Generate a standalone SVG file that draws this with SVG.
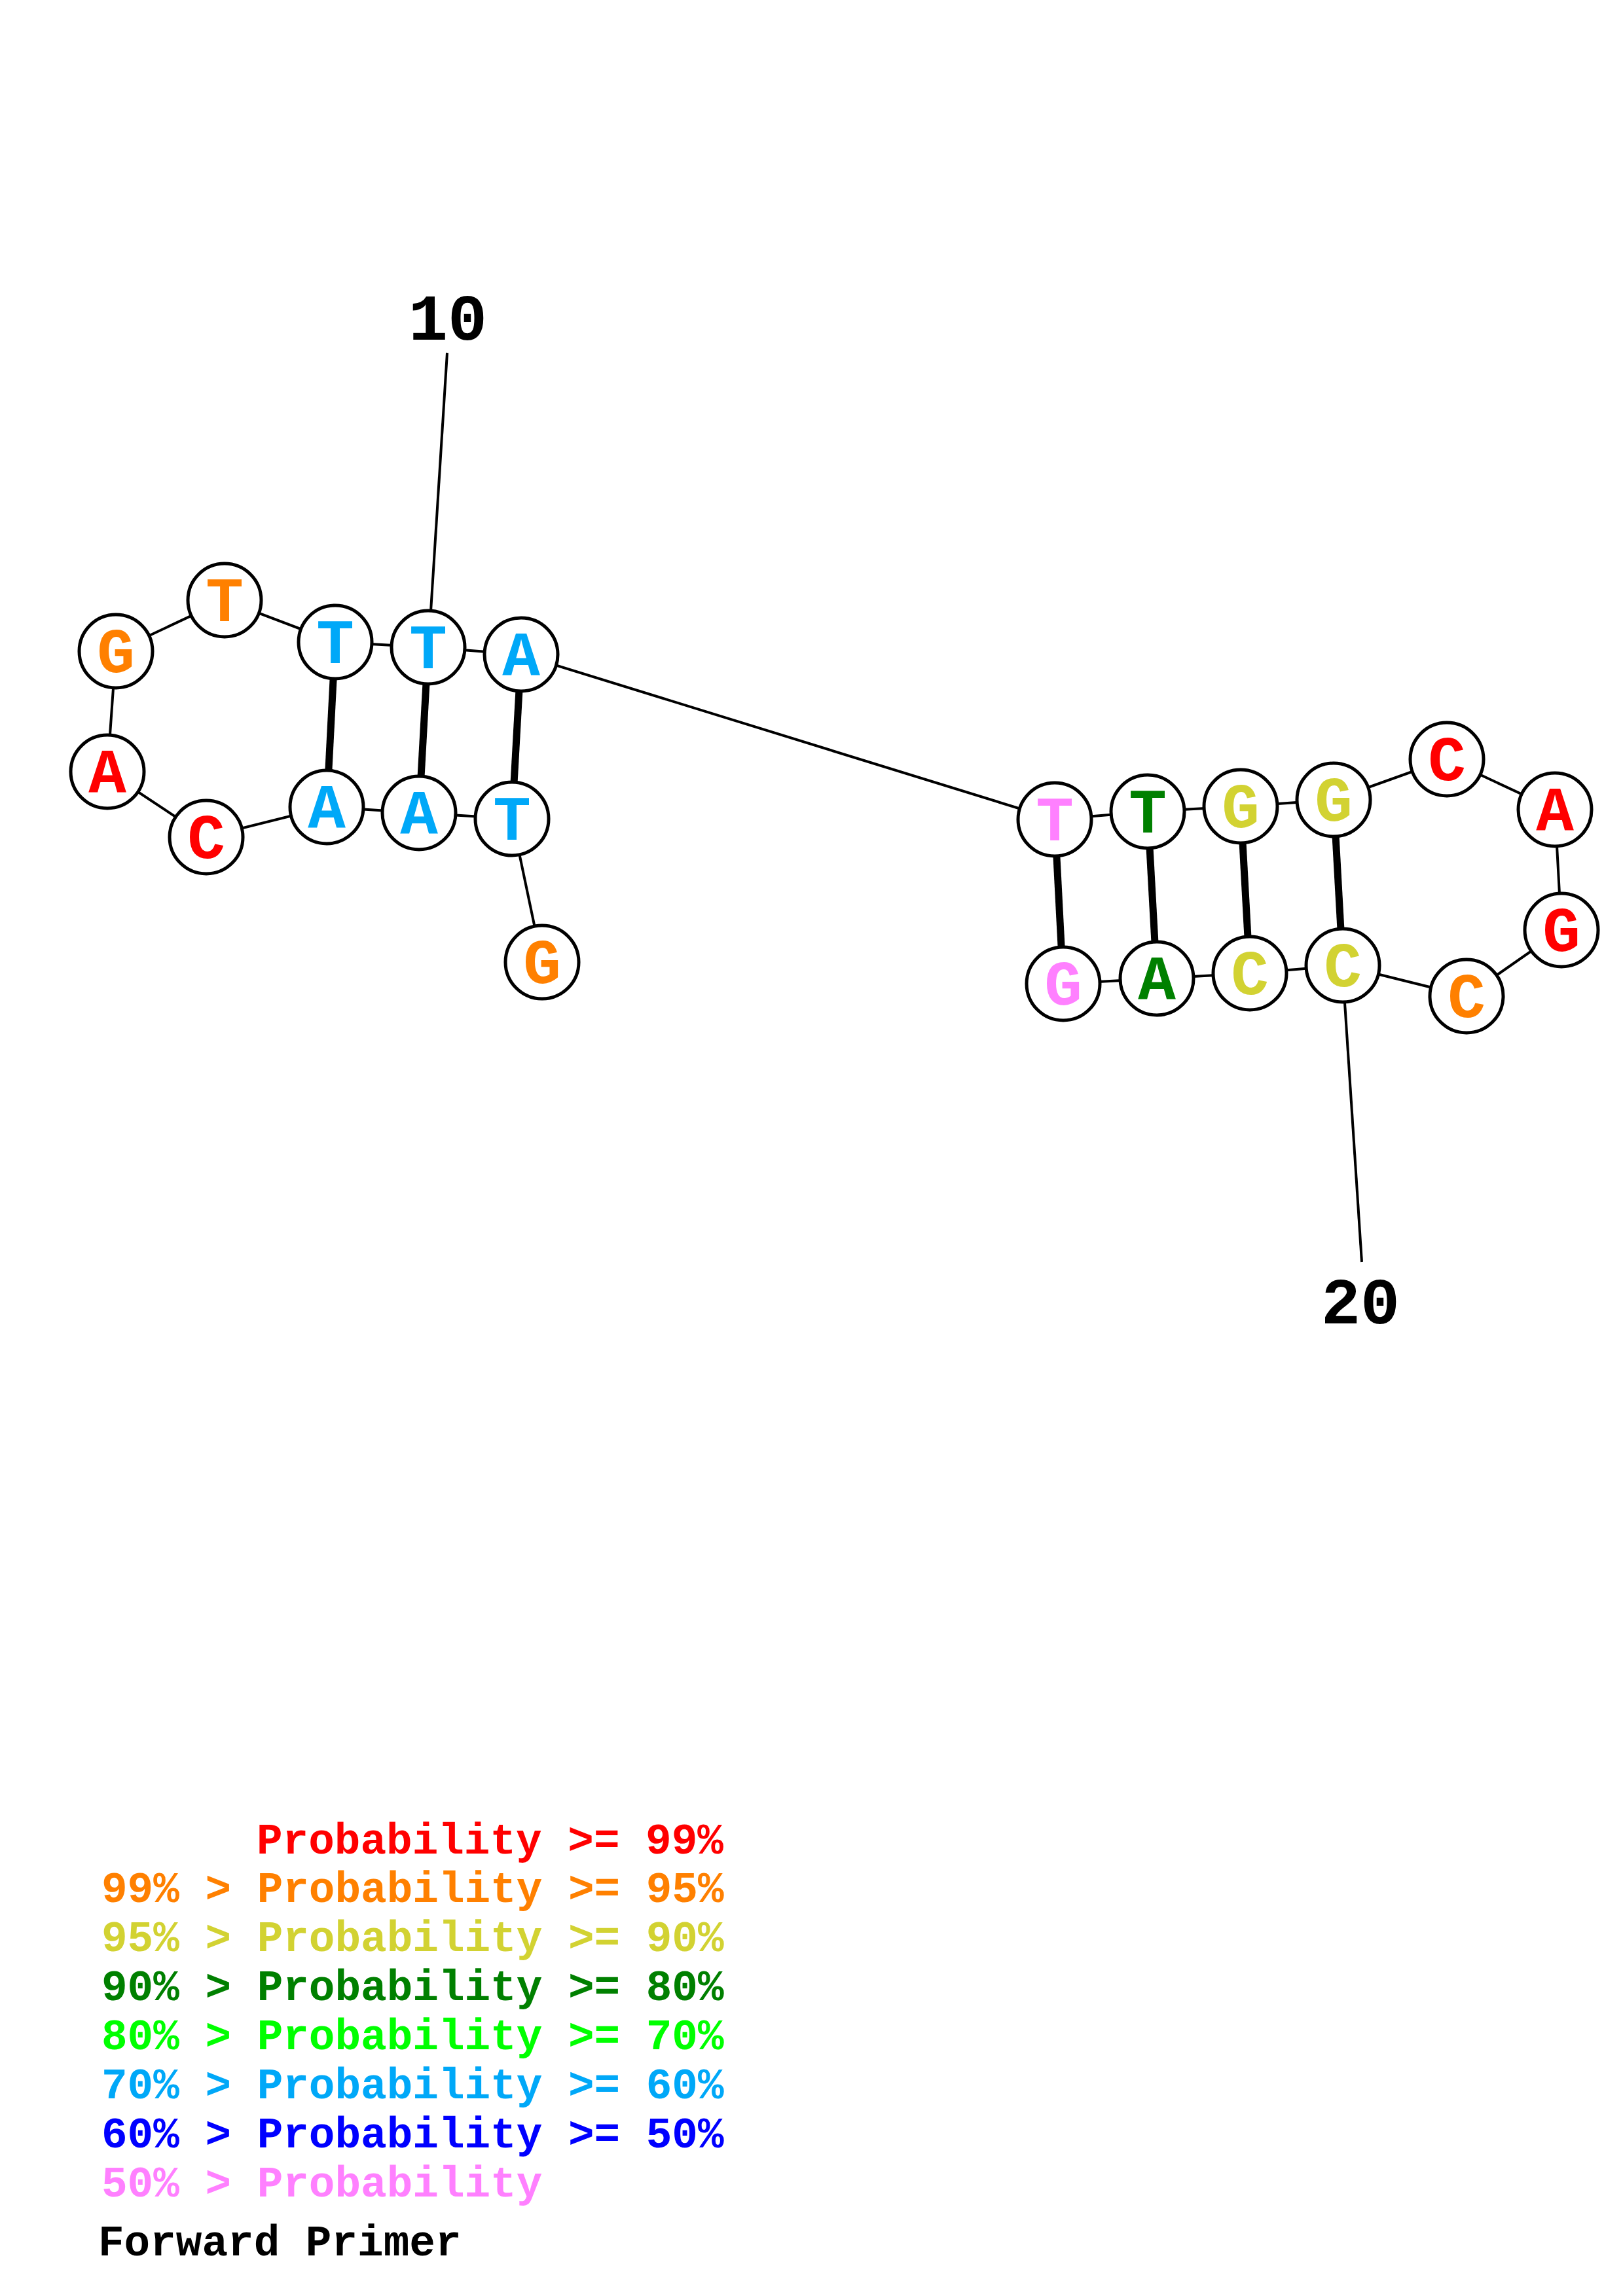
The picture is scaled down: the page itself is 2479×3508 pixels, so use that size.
<svg xmlns="http://www.w3.org/2000/svg" width="2479" height="3508" viewBox="0 0 2479 3508">
<style>
.bb{stroke:#000;stroke-width:4;fill:none}
.pr{stroke:#000;stroke-width:11;fill:none}
.nc{fill:#fff;stroke:#000;stroke-width:5}
.nt{font-family:"Liberation Mono","DejaVu Sans Mono",monospace;font-weight:bold;font-size:96px;text-anchor:middle}
.lb{font-family:"Liberation Mono","DejaVu Sans Mono",monospace;font-weight:bold;font-size:100px;text-anchor:middle;fill:#000}
.lg{font-family:"Liberation Mono","DejaVu Sans Mono",monospace;font-weight:bold;font-size:66px;white-space:pre}
.r{fill:#FF0000}.o{fill:#FF8000}.y{fill:#D2D232}.g{fill:#008000}.lgr{fill:#00FF00}.b{fill:#00A8F8}.db{fill:#0000FF}.p{fill:#FF80FF}.k{fill:#000}
</style>
<rect width="2479" height="3508" fill="#fff"/>
<g id="connectors">
<polyline class="bb" points="828,1470 782,1251 640,1242 499,1233 315,1279 164,1179 177,995 343,917 512,981 654,989 796,1000 1611,1252 1753,1240 1895,1232 2037,1222 2210,1160 2375,1237 2385,1421 2240,1522 2051,1475 1909,1487 1767,1495 1624,1503"/>
<line class="pr" x1="512" y1="981" x2="499" y2="1233"/>
<line class="pr" x1="654" y1="989" x2="640" y2="1242"/>
<line class="pr" x1="796" y1="1000" x2="782" y2="1251"/>
<line class="pr" x1="1611" y1="1252" x2="1624" y2="1503"/>
<line class="pr" x1="1753" y1="1240" x2="1767" y2="1495"/>
<line class="pr" x1="1895" y1="1232" x2="1909" y2="1487"/>
<line class="pr" x1="2037" y1="1222" x2="2051" y2="1475"/>
<line class="bb" x1="683" y1="539" x2="658" y2="934"/>
<line class="bb" x1="2054" y1="1532" x2="2080" y2="1928"/>
</g>
<g id="n1"><circle class="nc" cx="828" cy="1470" r="56"/><text class="nt o" x="828" y="1502">G</text></g>
<g id="n2"><circle class="nc" cx="782" cy="1251" r="56"/><text class="nt b" x="782" y="1283">T</text></g>
<g id="n3"><circle class="nc" cx="640" cy="1242" r="56"/><text class="nt b" x="640" y="1274">A</text></g>
<g id="n4"><circle class="nc" cx="499" cy="1233" r="56"/><text class="nt b" x="499" y="1265">A</text></g>
<g id="n5"><circle class="nc" cx="315" cy="1279" r="56"/><text class="nt r" x="315" y="1311">C</text></g>
<g id="n6"><circle class="nc" cx="164" cy="1179" r="56"/><text class="nt r" x="164" y="1211">A</text></g>
<g id="n7"><circle class="nc" cx="177" cy="995" r="56"/><text class="nt o" x="177" y="1027">G</text></g>
<g id="n8"><circle class="nc" cx="343" cy="917" r="56"/><text class="nt o" x="343" y="949">T</text></g>
<g id="n9"><circle class="nc" cx="512" cy="981" r="56"/><text class="nt b" x="512" y="1013">T</text></g>
<g id="n10"><circle class="nc" cx="654" cy="989" r="56"/><text class="nt b" x="654" y="1021">T</text></g>
<g id="n11"><circle class="nc" cx="796" cy="1000" r="56"/><text class="nt b" x="796" y="1032">A</text></g>
<g id="n12"><circle class="nc" cx="1611" cy="1252" r="56"/><text class="nt p" x="1611" y="1284">T</text></g>
<g id="n13"><circle class="nc" cx="1753" cy="1240" r="56"/><text class="nt g" x="1753" y="1272">T</text></g>
<g id="n14"><circle class="nc" cx="1895" cy="1232" r="56"/><text class="nt y" x="1895" y="1264">G</text></g>
<g id="n15"><circle class="nc" cx="2037" cy="1222" r="56"/><text class="nt y" x="2037" y="1254">G</text></g>
<g id="n16"><circle class="nc" cx="2210" cy="1160" r="56"/><text class="nt r" x="2210" y="1192">C</text></g>
<g id="n17"><circle class="nc" cx="2375" cy="1237" r="56"/><text class="nt r" x="2375" y="1269">A</text></g>
<g id="n18"><circle class="nc" cx="2385" cy="1421" r="56"/><text class="nt r" x="2385" y="1453">G</text></g>
<g id="n19"><circle class="nc" cx="2240" cy="1522" r="56"/><text class="nt o" x="2240" y="1554">C</text></g>
<g id="n20"><circle class="nc" cx="2051" cy="1475" r="56"/><text class="nt y" x="2051" y="1507">C</text></g>
<g id="n21"><circle class="nc" cx="1909" cy="1487" r="56"/><text class="nt y" x="1909" y="1519">C</text></g>
<g id="n22"><circle class="nc" cx="1767" cy="1495" r="56"/><text class="nt g" x="1767" y="1527">A</text></g>
<g id="n23"><circle class="nc" cx="1624" cy="1503" r="56"/><text class="nt p" x="1624" y="1535">G</text></g>
<g id="labels">
<text class="lb" x="684" y="519">10</text>
<text class="lb" x="2078" y="2022">20</text>
</g>
<g id="legend">
<text class="lg r" x="392" y="2832">Probability &gt;= 99%</text>
<text class="lg o" x="155" y="2906">99% &gt; Probability &gt;= 95%</text>
<text class="lg y" x="155" y="2981">95% &gt; Probability &gt;= 90%</text>
<text class="lg g" x="155" y="3056">90% &gt; Probability &gt;= 80%</text>
<text class="lg lgr" x="155" y="3131">80% &gt; Probability &gt;= 70%</text>
<text class="lg b" x="155" y="3206">70% &gt; Probability &gt;= 60%</text>
<text class="lg db" x="155" y="3281">60% &gt; Probability &gt;= 50%</text>
<text class="lg p" x="155" y="3356">50% &gt; Probability</text>
<text class="lg k" x="150" y="3446">Forward Primer</text>
</g>
</svg>
